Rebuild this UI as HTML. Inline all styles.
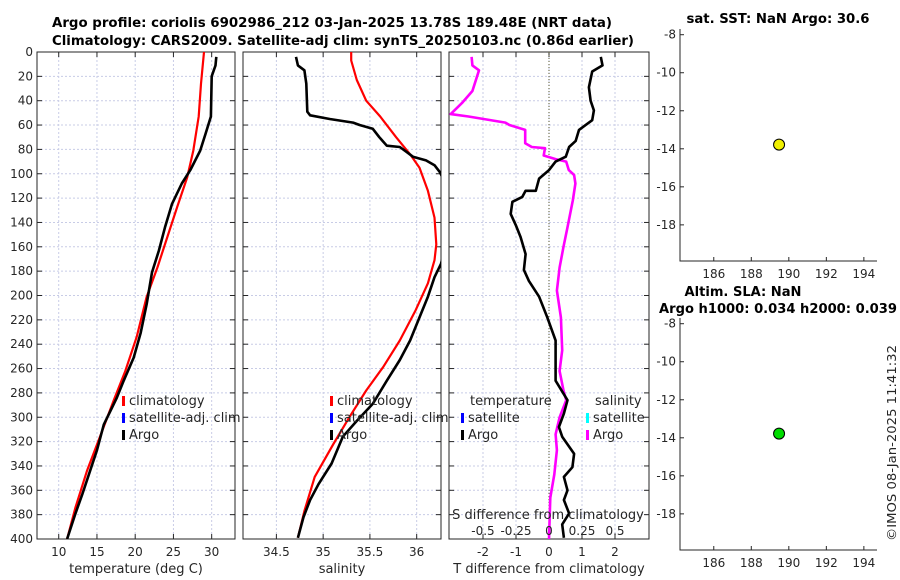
<!DOCTYPE html>
<html><head><meta charset="utf-8">
<style>
html,body{margin:0;padding:0;background:#fff;}
svg{display:block;font-family:"DejaVu Sans","Liberation Sans",sans-serif;}
</style></head>
<body>
<svg id="chart" width="900" height="580" viewBox="0 0 900 580" xmlns="http://www.w3.org/2000/svg">
<defs>
<clipPath id="c1"><rect x="37" y="52" width="198" height="487"/></clipPath>
<clipPath id="c2"><rect x="243" y="52" width="198" height="487"/></clipPath>
<clipPath id="c3"><rect x="449" y="52" width="200" height="487"/></clipPath>
</defs>
<text x="332" y="27" text-anchor="middle" font-size="13" font-weight="bold" textLength="560" lengthAdjust="spacingAndGlyphs">Argo profile: coriolis 6902986_212 03-Jan-2025 13.78S 189.48E (NRT data)</text>
<text x="343" y="45" text-anchor="middle" font-size="13" font-weight="bold" textLength="582" lengthAdjust="spacingAndGlyphs">Climatology: CARS2009. Satellite-adj clim: synTS_20250103.nc (0.86d earlier)</text>
<text x="778" y="23" text-anchor="middle" font-size="13" font-weight="bold" textLength="183" lengthAdjust="spacingAndGlyphs">sat. SST: NaN Argo: 30.6</text>
<text x="743" y="296" text-anchor="middle" font-size="13" font-weight="bold" textLength="117" lengthAdjust="spacingAndGlyphs">Altim. SLA: NaN</text>
<text x="778" y="313" text-anchor="middle" font-size="13" font-weight="bold" textLength="238" lengthAdjust="spacingAndGlyphs">Argo h1000: 0.034 h2000: 0.039</text>
<text transform="translate(896,443) rotate(-90)" text-anchor="middle" font-size="12" fill="#262626" textLength="196" lengthAdjust="spacingAndGlyphs">©IMOS 08-Jan-2025 11:41:32</text>
</svg>
<script>
// ---- data ----
const tempArgoDepth=[4,11,20,53,67,81,97,108,125,144,163,181,207,231,251,270,284,306,327,344,363,379,396,400];
const tempArgo=[30.6,30.5,30.0,29.9,29.2,28.5,27.2,26.1,24.8,23.9,23.1,22.2,21.5,20.7,19.8,18.5,17.6,15.9,15.0,14.1,13.1,12.2,11.3,11.1];
const tempClimDepth=[0,26,53,81,103,127,152,177,201,234,262,286,311,344,374,400];
const tempClim=[29.0,28.6,28.3,27.6,26.8,25.5,24.2,22.9,21.5,20.2,18.7,17.2,15.7,13.7,12.2,11.1];
const salArgoDepth=[4,11,15,26,49,52,55,58,60,63,70,77,78,82,86,89,93,99,110,130,150,174,185,201,218,237,253,270,289,303,316,338,355,368,382,399];
const salArgo=[34.71,34.73,34.80,34.82,34.83,34.86,35.07,35.32,35.39,35.53,35.60,35.68,35.82,35.89,35.96,36.10,36.19,36.25,36.32,36.36,36.34,36.26,36.19,36.12,36.03,35.93,35.82,35.68,35.53,35.36,35.21,35.09,34.95,34.86,34.79,34.73];
const salClimDepth=[0,7,23,40,53,70,84,95,114,136,158,171,190,212,237,259,278,300,322,349,377,399];
const salClim=[35.30,35.30,35.36,35.46,35.61,35.78,35.93,36.03,36.12,36.19,36.21,36.19,36.12,35.99,35.82,35.64,35.46,35.28,35.11,34.91,34.80,34.73];
const tDiffDepth=[4,11,16,29,40,48,56,64,73,78,86,90,97,104,114,114,119,123,133,142,152,166,179,188,201,218,237,256,270,286,297,308,316,330,341,349,360,368,379,388,399];
const tDiff=[1.57,1.62,1.31,1.21,1.26,1.36,1.31,0.91,0.81,0.61,0.51,0.2,0,-0.3,-0.4,-0.71,-0.81,-1.11,-1.16,-1.01,-0.86,-0.71,-0.76,-0.61,-0.3,-0.05,0.2,0.2,0.2,0.56,0.45,0.3,0.4,0.76,0.71,0.45,0.56,0.45,0.61,0.4,0.45];
const sDiffDepth=[4,11,15,32,42,51,53,58,60,64,75,78,79,85,88,90,97,101,108,122,144,160,177,196,218,245,262,278,286,300,314,327,347,366,400];
const sDiff=[-0.586,-0.58,-0.53,-0.58,-0.66,-0.745,-0.61,-0.33,-0.30,-0.18,-0.18,-0.13,-0.03,-0.04,0.05,0.13,0.15,0.19,0.2,0.18,0.14,0.11,0.08,0.06,0.09,0.10,0.08,0.11,0.13,0.08,0.05,0.06,0.04,0.01,0];
const depthTicks=[0,20,40,60,80,100,120,140,160,180,200,220,240,260,280,300,320,340,360,380,400];
const tempTicks=[10,15,20,25,30];
const salTicks=[34.5,35,35.5,36];
const tdTicks=[-2,-1,0,1,2];
const sdTickLabels=["-0.5","-0.25","0","0.25","0.5"];
const sdTicks=[-0.5,-0.25,0,0.25,0.5];
const lonTicks=[186,188,190,192,194];
const latTicks=[-8,-10,-12,-14,-16,-18];
const floatLon=[189.48];
const floatLat=[-13.78];

const svg=document.getElementById('chart');
const NS='http://www.w3.org/2000/svg';
function mk(tag,a,parent){const e=document.createElementNS(NS,tag);for(const k in a)e.setAttribute(k,a[k]);(parent||svg).appendChild(e);return e;}

// axis functions
const Y0=52,Y1=539;
const yD=d=>Y0+(d/400)*(Y1-Y0);
const panels=[
 {x0:37,x1:235,min:7.16,max:33.05,ticks:tempTicks,label:'temperature (deg C)',name:'temperature-panel',clip:'c1'},
 {x0:243,x1:441,min:34.143,max:36.26,ticks:salTicks,label:'salinity',name:'salinity-panel',clip:'c2'},
 {x0:449,x1:649,min:-3.03,max:3.03,ticks:tdTicks,label:'T difference from climatology',name:'difference-panel',clip:'c3'}
];
panels.forEach(p=>{p.sx=v=>p.x0+(v-p.min)/(p.max-p.min)*(p.x1-p.x0);});
const sdScale=v=>panels[2].sx(v*4);

panels.forEach((p,pi)=>{
  const g=mk('g',{});
  
  
  // grid
  depthTicks.forEach(d=>{
    const l=mk('line',{x1:p.x0,x2:p.x1,y1:yD(d),y2:yD(d),stroke:'#c8cce6','stroke-width':1,'stroke-dasharray':'2,2'},g);
    
    
    const t1=mk('line',{x1:p.x0,x2:p.x0+5,y1:yD(d),y2:yD(d),stroke:'#262626'},g);
    
    
    const t2=mk('line',{x1:p.x1-5,x2:p.x1,y1:yD(d),y2:yD(d),stroke:'#262626'},g);
    
    
    if(pi===0){
      const lab=mk('text',{x:33,y:yD(d)+4,'text-anchor':'end','font-size':12,fill:'#262626'},g);
      lab.textContent=d;
      
      
    }
  });
  p.ticks.forEach(v=>{
    const x=p.sx(v);
    const l=mk('line',{x1:x,x2:x,y1:Y0,y2:Y1,stroke:'#c8cce6','stroke-width':1,'stroke-dasharray':'2,2'},g);
    
    
    const tb=mk('line',{x1:x,x2:x,y1:Y1-5,y2:Y1,stroke:'#262626'},g);
    
    
    const tt=mk('line',{x1:x,x2:x,y1:Y0,y2:Y0+5,stroke:'#262626'},g);
    
    
    const lab=mk('text',{x:x,y:556,'text-anchor':'middle','font-size':12,fill:'#262626'},g);
    lab.textContent=v;
    
    
  });
  const fr=mk('rect',{x:p.x0,y:Y0,width:p.x1-p.x0,height:Y1-Y0,fill:'none',stroke:'#262626','stroke-width':1},g);
  
  
  const xl=mk('text',{x:(p.x0+p.x1)/2,y:573,'text-anchor':'middle','font-size':13,fill:'#262626'},g);
  xl.textContent=p.label;
  
  
});

// zero line in difference panel
const zl=mk('line',{x1:panels[2].sx(0),x2:panels[2].sx(0),y1:Y0,y2:Y1,stroke:'#5a5a30','stroke-width':1,'stroke-dasharray':'1,2'});



function series(xs,ds,sx,color,w,clip,name){
  const pts=xs.map((v,i)=>sx(v).toFixed(1)+','+yD(ds[i]).toFixed(1)).join(' ');
  const pl=mk('polyline',{points:pts,fill:'none',stroke:color,'stroke-width':w,'stroke-linejoin':'round','clip-path':'url(#'+clip+')'});
  
  
}
series(tempClim,tempClimDepth,panels[0].sx,'#ff0000',2.2,'c1','temperature-climatology-line');
series(tempArgo,tempArgoDepth,panels[0].sx,'#000000',2.6,'c1','temperature-argo-line');
series(salClim,salClimDepth,panels[1].sx,'#ff0000',2.2,'c2','salinity-climatology-line');
series(salArgo,salArgoDepth,panels[1].sx,'#000000',2.6,'c2','salinity-argo-line');
series(sDiff,sDiffDepth,sdScale,'#ff00ff',2.6,'c3','salinity-difference-line');
series(tDiff,tDiffDepth,panels[2].sx,'#000000',2.6,'c3','temperature-difference-line');

// legends
function legendItem(x,y,color,label,name){
  const m=mk('rect',{x:x,y:y-9,width:3,height:10,fill:color});
  
  
  const t=mk('text',{x:x+7,y:y,'font-size':13,fill:'#262626'});
  t.textContent=label;
  
  
}
[[122,'temp'],[330,'sal']].forEach(([lx,pre])=>{
  legendItem(lx,405,'#ff0000','climatology',pre+'-legend-climatology');
  legendItem(lx,422,'#0000ff','satellite-adj. clim',pre+'-legend-satellite-adj');
  legendItem(lx,439,'#000000','Argo',pre+'-legend-argo');
});
const lt=mk('text',{x:470,y:405,'font-size':13,fill:'#262626'});
lt.textContent='temperature';


const ls=mk('text',{x:595,y:405,'font-size':13,fill:'#262626'});
ls.textContent='salinity';


legendItem(461,422,'#0000ff','satellite','diff-legend-temp-satellite');
legendItem(461,439,'#000000','Argo','diff-legend-temp-argo');
legendItem(586,422,'#00ffff','satellite','diff-legend-sal-satellite');
legendItem(586,439,'#ff00ff','Argo','diff-legend-sal-argo');

const sdt=mk('text',{x:548,y:519,'text-anchor':'middle','font-size':13,fill:'#262626'});
sdt.textContent='S difference from climatology';


sdTicks.forEach((v,i)=>{
  const t=mk('text',{x:sdScale(v),y:535,'text-anchor':'middle','font-size':12,fill:'#262626'});
  t.textContent=sdTickLabels[i];
  
  
});

// maps
const MX0=680,MX1=877,lonMin=184.2,lonMax=194.7,latMax=-7.7,latMin=-19.9;
const sLon=v=>MX0+(v-lonMin)/(lonMax-lonMin)*(MX1-MX0);
function drawMap(top,bottom,color,name){
  const sLat=v=>top+(latMax-v)/(latMax-latMin)*(bottom-top);
  const g=mk('g',{});
  
  
  const ax=mk('path',{d:`M${MX0},${top} V${bottom} H${MX1}`,fill:'none',stroke:'#262626','stroke-width':1},g);
  
  
  latTicks.forEach(v=>{
    const tk=mk('line',{x1:MX0,x2:MX0+4,y1:sLat(v),y2:sLat(v),stroke:'#262626'},g);
    
    
    const t=mk('text',{x:MX0-4,y:sLat(v)+4,'text-anchor':'end','font-size':12,fill:'#262626'},g);
    t.textContent=v;
    
    
  });
  lonTicks.forEach(v=>{
    const tk=mk('line',{x1:sLon(v),x2:sLon(v),y1:bottom-4,y2:bottom,stroke:'#262626'},g);
    
    
    const t=mk('text',{x:sLon(v),y:bottom+17,'text-anchor':'middle','font-size':12,fill:'#262626'},g);
    t.textContent=v;
    
    
  });
  floatLon.forEach((lo,i)=>{
    const c=mk('circle',{cx:sLon(lo),cy:sLat(floatLat[i]),r:5.5,fill:color,stroke:'#000','stroke-width':1},g);
    
    
  });
}
drawMap(29,261,'#f0f000','sst-map');
drawMap(318,550,'#00dd00','sla-map');
</script>
</body></html>
